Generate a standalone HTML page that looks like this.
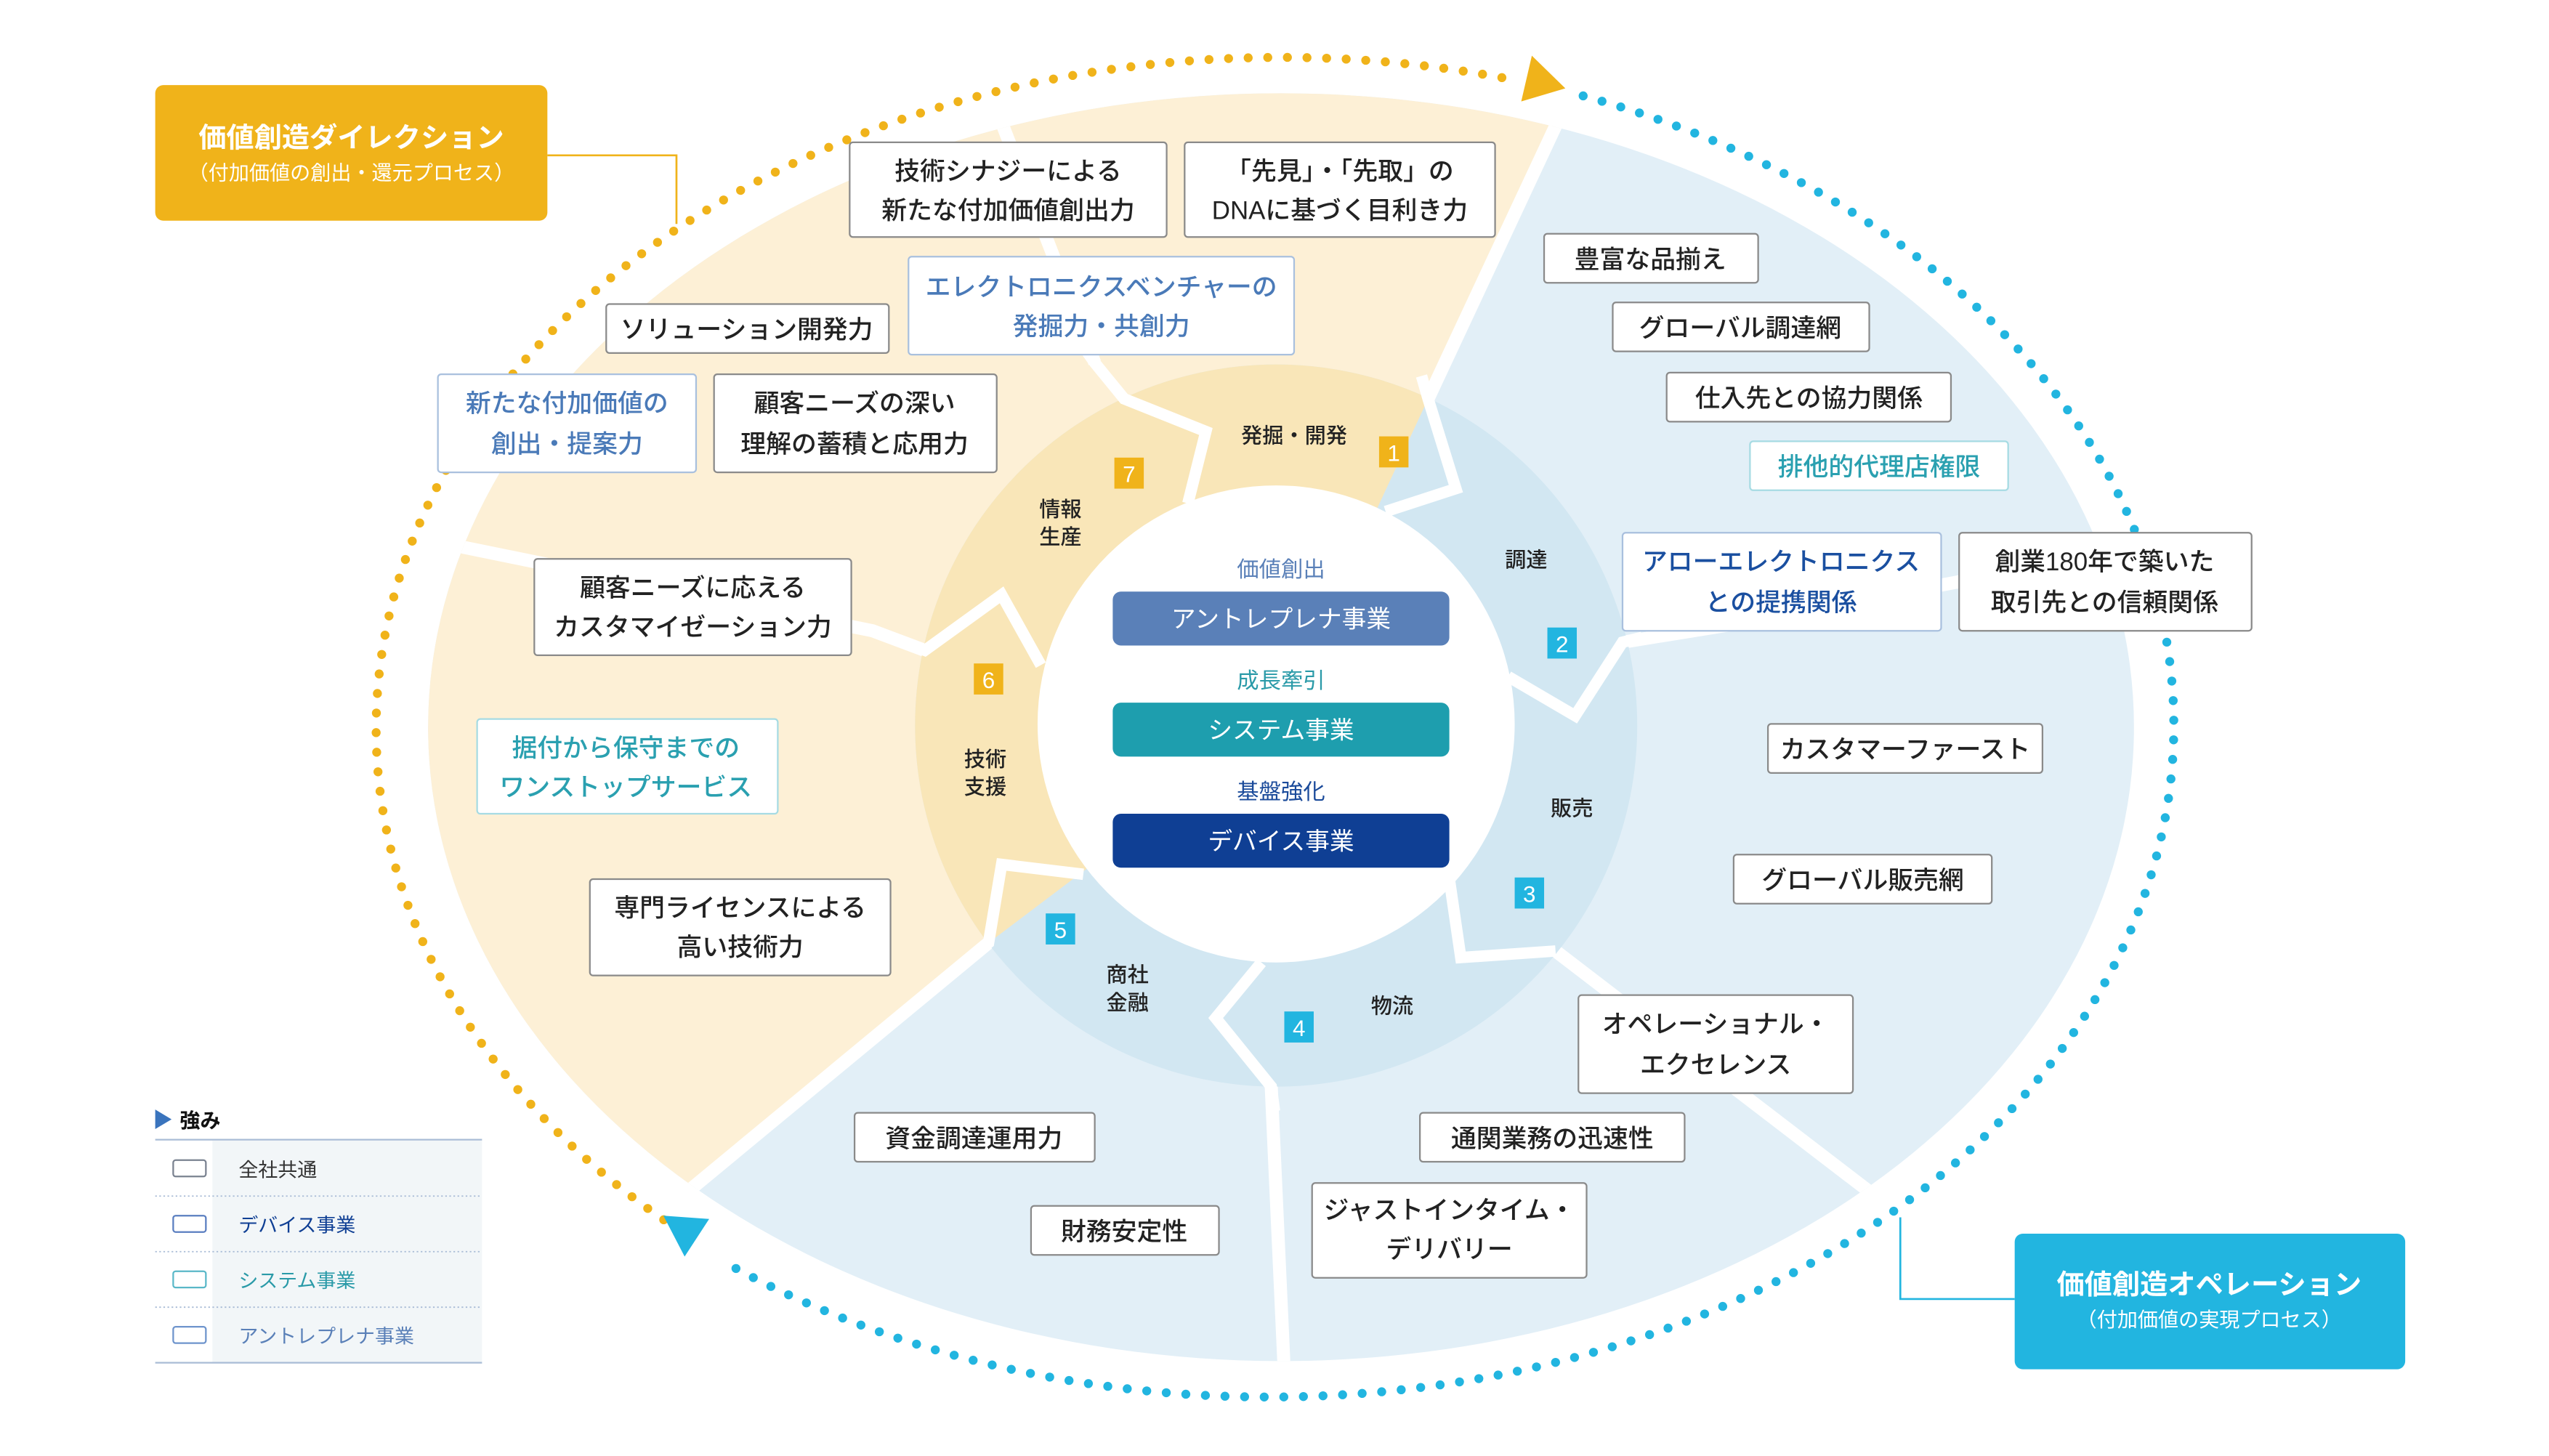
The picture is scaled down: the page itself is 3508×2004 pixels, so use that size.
<!DOCTYPE html>
<html><head><meta charset="utf-8"><style>
html,body{margin:0;padding:0;background:#fff;}
svg{display:block;}
text{font-family:"Liberation Sans","Noto Sans CJK JP",sans-serif;}
</style></head><body>
<svg width="3508" height="2004" viewBox="0 0 1560 891" xmlns="http://www.w3.org/2000/svg">
<defs>
<clipPath id="outer"><ellipse cx="784" cy="445" rx="522" ry="388"/></clipPath>
<clipPath id="ring"><circle cx="781" cy="444" r="221"/></clipPath>
</defs>
<ellipse cx="784" cy="445" rx="522" ry="388" fill="#e2eff7"/>
<g clip-path="url(#outer)">
<polygon points="781,444 605,577 425,725 300,900 0,900 0,0 980,0 955,72 874,244" fill="#fdf0d6"/>
<g fill="none" stroke="#fff" stroke-width="8" stroke-linejoin="miter">
<polyline points="874,244 960,60"/>
<polyline points="605,577 420,730"/>
<polyline points="566,398 534,386 250,328"/>
<polyline points="670,222 608,62"/>
<polyline points="778,665 786,840"/>
<polyline points="952,582 1145,730"/>
<polyline points="993,393 1067,381 1320,333"/>
</g>
</g>
<g clip-path="url(#ring)">
<rect x="500" y="200" width="600" height="500" fill="#d2e7f2"/>
<polygon points="781,444 605,577 540,640 500,640 500,200 880,200 874,244" fill="#f9e6b8"/>
</g>
<g fill="none" stroke="#fff" stroke-width="7" stroke-linejoin="miter">
<polyline points="663,212 670,222 688,244 738,264 727,308"/>
<polyline points="870,230 874,244 891,299 848,313"/>
<polyline points="923,414 964,438 993,393 1005,390"/>
<polyline points="887,538 894,586 952,582"/>
<polyline points="772,589 744,623 778,665 780,680"/>
<polyline points="663,535 613,529 605,577 595,585"/>
<polyline points="637,407 613,364 566,398 550,392"/>
</g>
<circle cx="781" cy="443" r="146" fill="#fff"/>

<path d="M406.2,746.5 A554,411 0 0 1 927.4,49" fill="none" stroke="#f0b31a" stroke-width="5.5" stroke-linecap="round" stroke-dasharray="0 12"/>
<path d="M968.9,58.6 A554,411 0 1 1 448,775" fill="none" stroke="#22b5e0" stroke-width="5.5" stroke-linecap="round" stroke-dasharray="0 12"/>
<polygon points="937.5,34 958,54 931,62" fill="#f0b31a"/>
<polygon points="406,744 434,746 419,769" fill="#22b5e0"/>

<polyline points="335,95 414,95 414,137" fill="none" stroke="#f0b31a" stroke-width="1.2"/>
<rect x="95" y="52" width="240" height="83" rx="5" fill="#f0b31a"/>
<text x="215" y="90" text-anchor="middle" font-size="17" font-weight="bold" fill="#fff">価値創造ダイレクション</text>
<text x="215" y="110" text-anchor="middle" font-size="12.5" fill="#fff">（付加価値の創出・還元プロセス）</text>
<polyline points="1233,795 1163,795 1163,745" fill="none" stroke="#22b5e0" stroke-width="1.2"/>
<rect x="1233" y="755" width="239" height="83" rx="5" fill="#22b5e0"/>
<text x="1352" y="792" text-anchor="middle" font-size="17" font-weight="bold" fill="#fff">価値創造オペレーション</text>
<text x="1352" y="812" text-anchor="middle" font-size="12.5" fill="#fff">（付加価値の実現プロセス）</text>

<text x="784" y="353" text-anchor="middle" font-size="13.5" fill="#5a80b8">価値創出</text>
<rect x="681" y="362" width="206" height="33" rx="5" fill="#5a80b8"/>
<text x="784" y="384" text-anchor="middle" font-size="15" fill="#fff">アントレプレナ事業</text>
<text x="784" y="421" text-anchor="middle" font-size="13.5" fill="#2a9aa8">成長牽引</text>
<rect x="681" y="430" width="206" height="33" rx="5" fill="#1e9eae"/>
<text x="784" y="452" text-anchor="middle" font-size="15" fill="#fff">システム事業</text>
<text x="784" y="489" text-anchor="middle" font-size="13.5" fill="#1a4a9a">基盤強化</text>
<rect x="681" y="498" width="206" height="33" rx="5" fill="#0f3f94"/>
<text x="784" y="520" text-anchor="middle" font-size="15" fill="#fff">デバイス事業</text>

<g font-size="13" fill="#222" text-anchor="middle" font-weight="500">
<text x="792" y="271">発掘・開発</text>
<text x="934" y="347">調達</text>
<text x="962" y="499">販売</text>
<text x="852" y="620">物流</text>
<text x="690" y="601">商社</text><text x="690" y="618">金融</text>
<text x="603" y="469">技術</text><text x="603" y="486">支援</text>
<text x="649" y="316">情報</text><text x="649" y="333">生産</text>
</g>
<g font-size="14" fill="#fff" text-anchor="middle">
<rect x="844" y="267" width="18" height="19" fill="#f0b31a"/><text x="853" y="282">1</text>
<rect x="947" y="384" width="18" height="19" fill="#22b5e0"/><text x="956" y="399">2</text>
<rect x="927" y="537" width="18" height="19" fill="#22b5e0"/><text x="936" y="552">3</text>
<rect x="786" y="619" width="18" height="19" fill="#22b5e0"/><text x="795" y="634">4</text>
<rect x="640" y="559" width="18" height="19" fill="#22b5e0"/><text x="649" y="574">5</text>
<rect x="596" y="406" width="18" height="19" fill="#f0b31a"/><text x="605" y="421">6</text>
<rect x="682" y="280" width="18" height="19" fill="#f0b31a"/><text x="691" y="295">7</text>
</g>

<g font-size="15.5" text-anchor="middle" font-weight="500">
<g fill="#fff" stroke="#8a8a8a" stroke-width="1">
<rect x="520" y="87" width="194" height="58" rx="2"/>
<rect x="725" y="87" width="190" height="58" rx="2"/>
<rect x="371" y="186" width="173" height="30" rx="2"/>
<rect x="437" y="229" width="173" height="60" rx="2"/>
<rect x="327" y="342" width="194" height="59" rx="2"/>
<rect x="361" y="538" width="184" height="59" rx="2"/>
<rect x="945" y="143" width="131" height="30" rx="2"/>
<rect x="987" y="185" width="157" height="30" rx="2"/>
<rect x="1020" y="228" width="174" height="30" rx="2"/>
<rect x="1199" y="326" width="179" height="60" rx="2"/>
<rect x="1082" y="443" width="168" height="30" rx="2"/>
<rect x="1061" y="523" width="158" height="30" rx="2"/>
<rect x="966" y="609" width="168" height="60" rx="2"/>
<rect x="869" y="681" width="162" height="30" rx="2"/>
<rect x="803" y="724" width="168" height="58" rx="2"/>
<rect x="523" y="681" width="147" height="30" rx="2"/>
<rect x="631" y="738" width="115" height="30" rx="2"/>
</g>
<g fill="#fff" stroke="#a9c0de" stroke-width="1">
<rect x="556" y="157" width="236" height="60" rx="2"/>
<rect x="268" y="229" width="158" height="60" rx="2"/>
<rect x="993" y="326" width="195" height="60" rx="2"/>
</g>
<g fill="#fff" stroke="#a6dbe3" stroke-width="1">
<rect x="292" y="440" width="184" height="58" rx="2"/>
<rect x="1071" y="270" width="158" height="30" rx="2"/>
</g>
<g fill="#222">
<text x="617" y="110">技術シナジーによる</text><text x="617" y="134">新たな付加価値創出力</text>
<text x="820" y="110">「先見」・「先取」の</text><text x="820" y="134">DNAに基づく目利き力</text>
<text x="457" y="207">ソリューション開発力</text>
<text x="523" y="252">顧客ニーズの深い</text><text x="523" y="277">理解の蓄積と応用力</text>
<text x="424" y="365">顧客ニーズに応える</text><text x="424" y="389">カスタマイゼーション力</text>
<text x="453" y="561">専門ライセンスによる</text><text x="453" y="585">高い技術力</text>
<text x="1010" y="164">豊富な品揃え</text>
<text x="1065" y="206">グローバル調達網</text>
<text x="1107" y="249">仕入先との協力関係</text>
<text x="1288" y="349">創業180年で築いた</text><text x="1288" y="374">取引先との信頼関係</text>
<text x="1166" y="464">カスタマーファースト</text>
<text x="1140" y="544">グローバル販売網</text>
<text x="1050" y="632">オペレーショナル・</text><text x="1050" y="657">エクセレンス</text>
<text x="950" y="702">通関業務の迅速性</text>
<text x="887" y="746">ジャストインタイム・</text><text x="887" y="770">デリバリー</text>
<text x="596" y="702">資金調達運用力</text>
<text x="688" y="759">財務安定性</text>
</g>
<g fill="#4a7ab8">
<text x="674" y="181">エレクトロニクスベンチャーの</text><text x="674" y="205">発掘力・共創力</text>
<text x="347" y="252">新たな付加価値の</text><text x="347" y="277">創出・提案力</text>
</g>
<g fill="#1a4fa0">
<text x="1090" y="349">アローエレクトロニクス</text><text x="1090" y="374">との提携関係</text>
</g>
<g fill="#2aa0b0">
<text x="383" y="463">据付から保守までの</text><text x="383" y="487">ワンストップサービス</text>
<text x="1150" y="291">排他的代理店権限</text>
</g>
</g>

<polygon points="95,679 105,685 95,691" fill="#3a74bd"/>
<text x="110" y="690" font-size="12.5" font-weight="bold" fill="#111">強み</text>
<rect x="130" y="698" width="165" height="136" fill="#f2f6f8"/>
<line x1="95" y1="697.5" x2="295" y2="697.5" stroke="#a9bcd6" stroke-width="1"/>
<line x1="95" y1="834" x2="295" y2="834" stroke="#a9bcd6" stroke-width="1"/>
<g stroke="#a9bcd6" stroke-width="0.8" stroke-dasharray="1 1.5">
<line x1="95" y1="732" x2="295" y2="732"/>
<line x1="95" y1="766" x2="295" y2="766"/>
<line x1="95" y1="800" x2="295" y2="800"/>
</g>
<g fill="#fff" stroke-width="1">
<rect x="106" y="710" width="20" height="10" rx="1.5" stroke="#7a8290"/>
<rect x="106" y="744" width="20" height="10" rx="1.5" stroke="#5a7ec0"/>
<rect x="106" y="778" width="20" height="10" rx="1.5" stroke="#5ab8c8"/>
<rect x="106" y="812" width="20" height="10" rx="1.5" stroke="#6e94cc"/>
</g>
<g font-size="12">
<text x="146" y="720" fill="#333">全社共通</text>
<text x="146" y="754" fill="#0f3f94">デバイス事業</text>
<text x="146" y="788" fill="#2a9aa8">システム事業</text>
<text x="146" y="822" fill="#5a80b8">アントレプレナ事業</text>
</g>
</svg>
</body></html>
